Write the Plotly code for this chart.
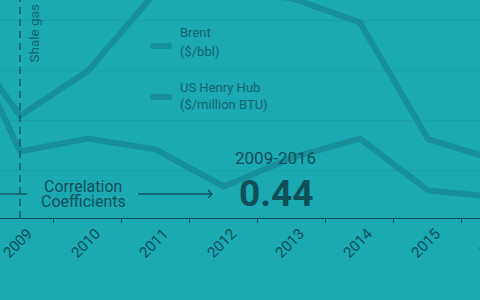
import plotly.graph_objects as go

years = ["2008", "2009", "2010", "2011", "2012", "2013", "2014", "2015", "2016"]
brent = [100.0, 61.7, 79.6, 111.3, 111.7, 108.7, 99.0, 52.4, 44.0]
henry_hub = [8.86, 3.94, 4.37, 4.00, 2.75, 3.73, 4.37, 2.62, 2.40]
visible_tick_labels = ["2009", "2010", "2011", "2012", "2013", "2014", "2015"]

W, H = 480, 300
PLOT_H = 218  # plot area height in px (top margin 0)

BG = "#1ba9b2"
LINE = "#16909b"
GRID = "#1a9fa8"
DARK = "#0f4f57"
MID = "#14656e"


def px(x):
    return x / W


def py(y):
    return (PLOT_H - y) / PLOT_H


fig = go.Figure()
fig.add_trace(go.Scatter(x=years, y=brent, mode="lines", name="Brent",
                         line=dict(color=LINE, width=6), showlegend=False))
fig.add_trace(go.Scatter(x=years, y=henry_hub, mode="lines", name="US Henry Hub",
                         line=dict(color=LINE, width=6), yaxis="y2", showlegend=False))

shapes = []
# shale gas boom dashed line (at the 2009 category)
shapes.append(dict(type="line", xref="x", yref="paper", x0=1, x1=1, y0=0, y1=1,
                   line=dict(color=DARK, width=1.3, dash="7px,5px"), layer="above"))
# correlation arrows
shapes.append(dict(type="line", xref="paper", yref="paper", x0=px(0), x1=px(27), y0=py(194), y1=py(194),
                   line=dict(color=DARK, width=1.3)))
shapes.append(dict(type="line", xref="paper", yref="paper", x0=px(138), x1=px(212), y0=py(194), y1=py(194),
                   line=dict(color=DARK, width=1.3)))
shapes.append(dict(type="path", xref="paper", yref="paper",
                   path=f"M {px(208)},{py(190)} L {px(212)},{py(194)} L {px(208)},{py(198)}",
                   line=dict(color=DARK, width=1.3)))


def capsule(x0, x1, yc, r=3):
    p = (f"M {px(x0 + r)},{py(yc - r)} L {px(x1 - r)},{py(yc - r)} "
         f"Q {px(x1)},{py(yc - r)} {px(x1)},{py(yc)} Q {px(x1)},{py(yc + r)} {px(x1 - r)},{py(yc + r)} "
         f"L {px(x0 + r)},{py(yc + r)} Q {px(x0)},{py(yc + r)} {px(x0)},{py(yc)} "
         f"Q {px(x0)},{py(yc - r)} {px(x0 + r)},{py(yc - r)} Z")
    return dict(type="path", xref="paper", yref="paper", path=p,
                fillcolor=LINE, line=dict(width=0))


shapes.append(capsule(150, 172, 46))
shapes.append(capsule(150, 172, 97))

legend_font = dict(family="Roboto", size=13, color=MID)
ann = []
ann.append(dict(text="Brent", x=px(178), y=py(33), xanchor="left", yanchor="middle", font=legend_font))
ann.append(dict(text="($/bbl)", x=px(178), y=py(51), xanchor="left", yanchor="middle", font=legend_font))
ann.append(dict(text="US Henry Hub", x=px(178), y=py(87), xanchor="left", yanchor="middle", font=legend_font))
ann.append(dict(text="($/million BTU)", x=px(178), y=py(104), xanchor="left", yanchor="middle",
                font=legend_font))
ann.append(dict(text="Shale gas boom", x=px(33), y=py(65), xanchor="center", yanchor="bottom",
                textangle=-90, font=dict(family="Roboto", size=13.5, color=MID)))
ann.append(dict(text="Correlation", x=px(83), y=py(186.5), xanchor="center", yanchor="middle",
                font=dict(family="Roboto", size=16, color=DARK)))
ann.append(dict(text="Coefficients", x=px(83), y=py(201.5), xanchor="center", yanchor="middle",
                font=dict(family="Roboto", size=16, color=DARK)))
ann.append(dict(text="2009-2016", x=px(275.5), y=py(158), xanchor="center", yanchor="middle",
                font=dict(family="Roboto", size=17, color=DARK)))
ann.append(dict(text="<b>0.44</b>", x=px(276), y=py(193), xanchor="center", yanchor="middle",
                font=dict(family="Roboto", size=37, color=DARK)))
ann.append(dict(text="2016", x=px(494), y=py(241), xanchor="center", yanchor="middle",
                textangle=-45, font=dict(family="Roboto", size=15, color=DARK)))
for a in ann:
    a.update(xref="paper", yref="paper", showarrow=False)

fig.update_layout(
    width=W, height=H,
    margin=dict(l=0, r=0, t=0, b=H - PLOT_H, pad=0, autoexpand=False),
    paper_bgcolor=BG, plot_bgcolor=BG,
    shapes=shapes, annotations=ann,
    showlegend=False,
    xaxis=dict(type="category", range=[0.706, 7.765], tickson="boundaries",
               ticks="outside", ticklen=4, tickcolor=DARK, tickwidth=1.2,
               showline=True, linecolor=DARK, linewidth=1.2, showgrid=False,
               tickangle=-45, tickfont=dict(family="Roboto", size=15, color=DARK),
               ticklabelshift=8,
               tickmode="array", tickvals=visible_tick_labels, ticktext=visible_tick_labels,
               automargin=False, fixedrange=True),
    yaxis=dict(range=[20.8, 108], tickvals=[40, 60, 80, 100], showticklabels=False,
               showgrid=True, gridcolor=GRID, gridwidth=1, zeroline=False, ticks="",
               automargin=False),
    yaxis2=dict(range=[1.689, 9.054], overlaying="y", side="right", visible=False,
                showgrid=False, zeroline=False, automargin=False),
)

fig.write_html("out.html")
